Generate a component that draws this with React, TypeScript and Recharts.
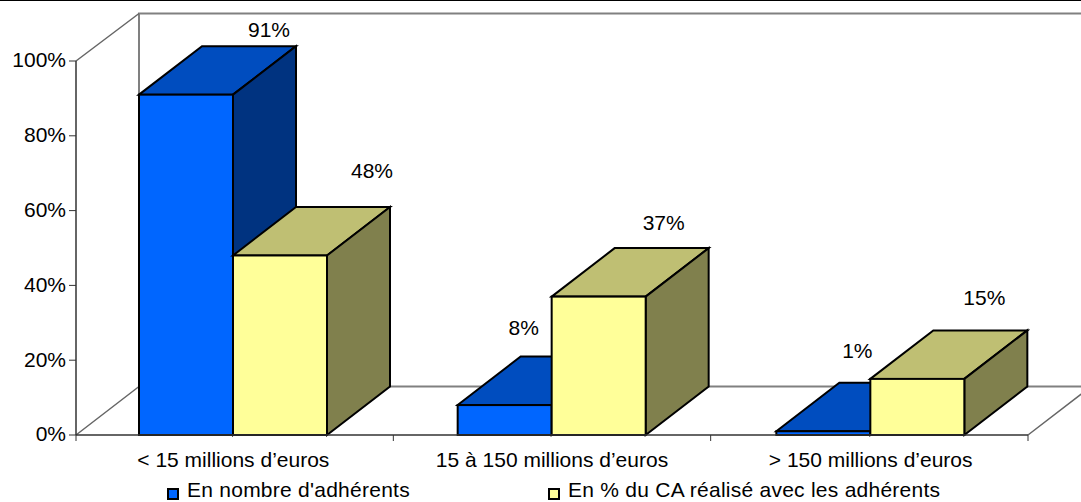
import { BarChart, Bar, XAxis, YAxis, Legend, LabelList } from "recharts";

const categories = ["< 15 millions d’euros", "15 à 150 millions d’euros", "> 150 millions d’euros"];
const memberShare = [91, 8, 1];
const revenueShare = [48, 37, 15];
const percentTicks = [0, 20, 40, 60, 80, 100];

const chartData = categories.map((name, i) => ({
  name,
  members: memberShare[i],
  revenue: revenueShare[i],
}));

const FONT = '"Liberation Sans", Arial, sans-serif';
const WIDTH = 1081;
const HEIGHT = 502;
const LEFT = 76;
const RIGHT = 1028;
const TOP = 61;
const BOTTOM = 435;
// depth of the fake 3D floor
const DX = 63;
const DY = 48.5;

// label offsets from the front-top centre of each box, per category
const memberLabelShift = [
  [83, -58],
  [19, -70],
  [34, -73],
];
const revenueLabelShift = [
  [92, -77],
  [65, -67],
  [67, -74],
];

const Box3D = ({ x, y, width, height, fill, topFill, sideFill }: any) => {
  const r = x + width;
  const b = y + height;
  return (
    <g stroke="#000" strokeWidth={2} strokeLinejoin="miter">
      <polygon points={`${x},${y} ${x + DX},${y - DY} ${r + DX},${y - DY} ${r},${y}`} fill={topFill} />
      <polygon points={`${r},${y} ${r + DX},${y - DY} ${r + DX},${b - DY} ${r},${b}`} fill={sideFill} />
      <rect x={x} y={y} width={width} height={height} fill={fill} />
    </g>
  );
};

// back walls and floor, plus the tick marks between categories
const Frame = () => {
  const band = (RIGHT - LEFT) / categories.length;
  const grey = "#808080";
  return (
    <g fill="none">
      <path
        d={`M${LEFT + DX},${BOTTOM - DY} V${TOP - DY + 1} H${WIDTH + 20} M${LEFT + DX},${BOTTOM - DY} H${WIDTH + 20}`}
        stroke={grey}
        strokeWidth={2}
      />
      <path
        d={`M${LEFT},${TOP} L${LEFT + DX},${TOP - DY + 1} M${LEFT},${BOTTOM} L${LEFT + DX},${BOTTOM - DY} M${RIGHT},${BOTTOM} L${RIGHT + DX},${BOTTOM - DY}`}
        stroke="#666"
        strokeWidth={1.5}
      />
      {categories.concat("").map((_, i) => (
        <line key={i} x1={LEFT + i * band} x2={LEFT + i * band} y1={BOTTOM} y2={BOTTOM + 6} stroke="#333" strokeWidth={1} />
      ))}
    </g>
  );
};

const shiftedLabel = (shifts: number[][]) => (props: any) => {
  const { x, y, width, value, index } = props;
  const [sx, sy] = shifts[index];
  return (
    <text x={x + width / 2 + sx} y={y + sy} textAnchor="middle" fontFamily={FONT} fontSize={21} fill="#000">
      {value}%
    </text>
  );
};

const LegendRow = ({ payload }: any) => (
  <div style={{ display: "flex", paddingLeft: 167, fontFamily: FONT, fontSize: 21, letterSpacing: 0.25, lineHeight: "20px", color: "#000" }}>
    {(payload || []).map((entry: any) => (
      <div key={entry.value} style={{ display: "flex", alignItems: "center", flex: "0 0 auto", minWidth: 381, whiteSpace: "nowrap" }}>
        <span
          style={{
            display: "inline-block",
            flex: "0 0 12px",
            boxSizing: "border-box",
            width: 12,
            height: 12,
            background: entry.color,
            border: "2px solid #000",
            marginRight: 8,
            marginTop: 8,
          }}
        />
        {entry.value}
      </div>
    ))}
  </div>
);

export default function App() {
  return (
    <div style={{ position: "absolute", left: 0, top: 0, width: WIDTH, height: HEIGHT, background: "#fff", overflow: "hidden" }}>
      <div style={{ position: "absolute", left: 0, top: 0, width: WIDTH, height: 1, background: "#000" }} />
      <BarChart
        width={WIDTH}
        height={HEIGHT}
        data={chartData}
        margin={{ top: TOP, right: WIDTH - RIGHT, bottom: 0, left: 0 }}
        barSize={94}
        barGap={0}
      >
        <Frame />
        <XAxis
          dataKey="name"
          height={47}
          tickLine={false}
          tickMargin={11}
          interval={0}
          padding={{ left: -2, right: -2 }}
          axisLine={{ stroke: "#333", strokeWidth: 1.5 }}
          tick={{ fill: "#000", fontSize: 21, fontFamily: FONT }}
        />
        <YAxis
          width={LEFT}
          domain={[0, 100]}
          ticks={percentTicks}
          tickFormatter={(v: number) => `${v}%`}
          tickSize={7}
          tickMargin={3}
          axisLine={{ stroke: "#333", strokeWidth: 1.5 }}
          tickLine={{ stroke: "#333", strokeWidth: 1 }}
          tick={{ fill: "#000", fontSize: 21, fontFamily: FONT, dy: -1 }}
        />
        <Legend
          verticalAlign="bottom"
          height={20}
          itemSorter={null}
          wrapperStyle={{ left: 0, top: 480, width: WIDTH, height: 20 }}
          content={<LegendRow />}
        />
        <Bar
          dataKey="members"
          name="En nombre d'adhérents"
          fill="#0066ff"
          isAnimationActive={false}
          shape={(p: any) => <Box3D {...p} topFill="#004dbf" sideFill="#003380" />}
        >
          <LabelList dataKey="members" content={shiftedLabel(memberLabelShift)} />
        </Bar>
        <Bar
          dataKey="revenue"
          name="En % du CA réalisé avec les adhérents"
          fill="#ffff99"
          isAnimationActive={false}
          shape={(p: any) => <Box3D {...p} topFill="#bfbf73" sideFill="#80804d" />}
        >
          <LabelList dataKey="revenue" content={shiftedLabel(revenueLabelShift)} />
        </Bar>
      </BarChart>
    </div>
  );
}
